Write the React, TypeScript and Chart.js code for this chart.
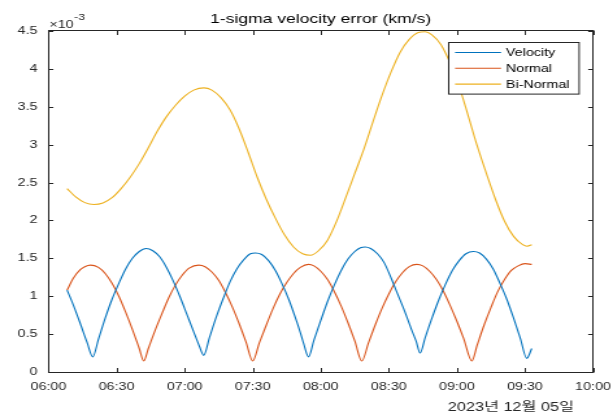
import React, { useEffect, useRef } from "react";
import { Chart, registerables } from "chart.js";

Chart.register(...registerables);

// ---------- data (minutes after 06:00, values in units of 1e-3 km/s) ----------
const seriesNames = ["Velocity", "Normal", "Bi-Normal"];
const seriesColors = ["#0072BD", "#D95319", "#EDB120"];

const velTime = [8.2, 11, 14, 17, 19.5, 22, 25, 28, 31, 34, 37, 40, 43, 46, 49, 52, 55, 58, 61, 64, 66.5, 68.4, 71, 74, 77, 80, 83, 86, 89, 91.2, 94, 97, 100, 103, 106, 109, 111, 112.5, 114.6, 117, 120, 123, 126, 129, 132, 135, 137.5, 139.6, 142, 145, 148, 151, 154, 157, 160, 162, 163.8, 166, 169, 172, 175, 178, 181, 184, 187.3, 190, 193, 196, 199, 202, 205, 208, 210.8, 213];
const velValues = [1.08, 0.88, 0.64, 0.39, 0.20, 0.43, 0.71, 0.96, 1.17, 1.36, 1.50, 1.59, 1.63, 1.60, 1.52, 1.38, 1.20, 0.99, 0.76, 0.53, 0.34, 0.22, 0.46, 0.73, 0.97, 1.19, 1.36, 1.48, 1.56, 1.57, 1.55, 1.47, 1.34, 1.16, 0.95, 0.70, 0.52, 0.37, 0.20, 0.42, 0.68, 0.93, 1.15, 1.34, 1.49, 1.59, 1.64, 1.65, 1.63, 1.56, 1.44, 1.24, 1.02, 0.80, 0.56, 0.41, 0.25, 0.45, 0.71, 0.95, 1.16, 1.34, 1.47, 1.56, 1.59, 1.57, 1.49, 1.36, 1.17, 0.96, 0.71, 0.44, 0.18, 0.31];

const norTime = [8.2, 11, 14, 16, 18.5, 22, 25, 28, 31, 34, 37, 40, 42, 44, 47, 50, 53, 56, 59, 62, 66.2, 69, 72, 75, 78, 81, 84, 87, 90, 93, 96, 99, 102, 105, 108, 111, 114.6, 117, 120, 123, 126, 129, 132, 135, 138.1, 141, 144, 147, 150, 153, 156, 159, 162.3, 165, 168, 171, 174, 177, 180, 183, 186.6, 189, 192, 195, 198, 201, 204, 207, 210, 213];
const norValues = [1.08, 1.24, 1.35, 1.39, 1.41, 1.38, 1.30, 1.17, 1.00, 0.79, 0.56, 0.31, 0.145, 0.31, 0.55, 0.77, 0.98, 1.15, 1.28, 1.37, 1.41, 1.39, 1.32, 1.21, 1.05, 0.86, 0.64, 0.40, 0.145, 0.39, 0.62, 0.84, 1.03, 1.18, 1.30, 1.38, 1.42, 1.40, 1.33, 1.22, 1.06, 0.87, 0.65, 0.41, 0.145, 0.38, 0.62, 0.84, 1.03, 1.19, 1.31, 1.39, 1.42, 1.40, 1.33, 1.22, 1.07, 0.88, 0.67, 0.44, 0.145, 0.36, 0.62, 0.85, 1.06, 1.22, 1.34, 1.40, 1.43, 1.42];

const binTime = [8.2, 12, 16, 20, 24, 28, 32, 36, 40, 44, 48, 52, 56, 60, 64, 68.5, 72, 76, 80, 84, 88, 92, 96, 100, 104, 108, 112, 115.5, 119, 123, 127, 131, 135, 139, 143, 147, 151, 155, 159, 163, 166, 169, 173, 177, 181, 185, 189, 193, 197, 201, 205, 209, 211, 213];
const binValues = [2.42, 2.31, 2.235, 2.21, 2.23, 2.30, 2.42, 2.57, 2.75, 2.96, 3.18, 3.37, 3.52, 3.64, 3.72, 3.75, 3.72, 3.62, 3.46, 3.21, 2.90, 2.57, 2.28, 2.03, 1.81, 1.65, 1.56, 1.54, 1.60, 1.74, 1.99, 2.30, 2.62, 2.94, 3.30, 3.65, 3.96, 4.22, 4.39, 4.48, 4.49, 4.45, 4.32, 4.08, 3.77, 3.38, 2.98, 2.62, 2.28, 1.99, 1.79, 1.68, 1.66, 1.68];

const xTickLabels = ["06:00", "06:30", "07:00", "07:30", "08:00", "08:30", "09:00", "09:30", "10:00"];
const xTickStep = 30;
const yTickLabels = ["0", "0.5", "1", "1.5", "2", "2.5", "3", "3.5", "4", "4.5"];
const yTickStep = 0.5;

const titleText = "1-sigma velocity error (km/s)";
const exponentBase = "\u00d710";
const exponentPower = "-3";
const dateText = "2023년 12월 05일";

// ---------- styling ----------
const CANVAS_W = 472;
const CANVAS_H = 413;
const DISPLAY_W = 613;
const AXIS_COLOR = "#262626";
const FONT = "'Liberation Sans', Arial, Helvetica, sans-serif";

const matlabPlugin = {
  id: "matlabDecor",
  afterDraw(chart: any) {
    const { ctx, chartArea } = chart;
    const xs = chart.scales.x;
    const ys = chart.scales.y;
    const L = Math.round(chartArea.left) + 0.5;
    const R = Math.round(chartArea.right) - 0.5;
    const T = Math.floor(chartArea.top) - 0.5;
    const B = Math.floor(chartArea.bottom) + 0.5;
    ctx.save();
    ctx.strokeStyle = AXIS_COLOR;
    ctx.lineWidth = 1;
    ctx.strokeRect(L, T, R - L, B - T);
    ctx.beginPath();
    for (const t of ys.ticks) {
      const py = Math.round(ys.getPixelForValue(t.value)) + 0.5;
      ctx.moveTo(L, py); ctx.lineTo(L + 3.6, py);
      ctx.moveTo(R, py); ctx.lineTo(R - 3.6, py);
    }
    for (const t of xs.ticks) {
      const px = Math.round(xs.getPixelForValue(t.value)) + 0.5;
      ctx.moveTo(px, B); ctx.lineTo(px, B - 4.5);
      ctx.moveTo(px, T); ctx.lineTo(px, T + 4.5);
    }
    ctx.stroke();

    // title
    const cx = (chartArea.left + chartArea.right) / 2;
    ctx.fillStyle = "#000";
    ctx.font = `13.5px ${FONT}`;
    ctx.textAlign = "center";
    ctx.textBaseline = "alphabetic";
    ctx.fillText(titleText, cx, 23.3);

    // exponent label
    ctx.fillStyle = AXIS_COLOR;
    ctx.textAlign = "left";
    ctx.font = `11px ${FONT}`;
    const ex = chartArea.left + 0.7;
    ctx.fillText(exponentBase, ex, 27.7);
    const w = ctx.measureText(exponentBase).width;
    ctx.font = `9.5px ${FONT}`;
    ctx.fillText(exponentPower, ex + w + 0.3, 20);

    // date label
    ctx.font = `12.5px ${FONT}, 'Noto Sans CJK KR'`;
    ctx.textAlign = "center";
    ctx.fillText(dateText, 393.4, 411);

    // legend box
    const boxW = 100.4, boxH = 51.6;
    const bx = Math.round(chartArea.right - 11.5 - boxW) + 0.5;
    const by = Math.round(chartArea.top + 10.7) + 0.5;
    ctx.fillStyle = "#fff";
    ctx.fillRect(bx, by, boxW, boxH);
    ctx.strokeStyle = AXIS_COLOR;
    ctx.lineWidth = 1;
    ctx.strokeRect(bx, by, boxW, boxH);
    ctx.font = `11px ${FONT}`;
    ctx.textAlign = "left";
    ctx.textBaseline = "middle";
    chart.data.datasets.forEach((ds: any, i: number) => {
      const ry = by + 10 + i * 15.8;
      ctx.strokeStyle = ds.borderColor;
      ctx.lineWidth = 1.1;
      ctx.beginPath();
      ctx.moveTo(bx + 4.9, ry);
      ctx.lineTo(bx + 40.3, ry);
      ctx.stroke();
      ctx.fillStyle = "#000";
      ctx.fillText(ds.label, bx + 44.1, ry + 0.5);
    });
    ctx.restore();
  },
};

export default function App() {
  const canvasRef = useRef<HTMLCanvasElement | null>(null);

  useEffect(() => {
    const canvas = canvasRef.current;
    if (!canvas) return;
    const times = [velTime, norTime, binTime];
    const values = [velValues, norValues, binValues];
    const datasets = seriesNames.map((name, i) => ({
      label: name,
      data: times[i].map((t, j) => ({ x: t, y: values[i][j] })),
      borderColor: seriesColors[i],
      backgroundColor: seriesColors[i],
      borderWidth: 1.1,
      pointRadius: 0,
      fill: false,
      cubicInterpolationMode: "monotone" as const,
    }));

    const chart = new Chart(canvas, {
      type: "line",
      data: { datasets },
      options: {
        responsive: false,
        animation: false,
        devicePixelRatio: 1,
        layout: { padding: { top: 31, right: CANVAS_W - 456.6, bottom: 0, left: 0 } },
        plugins: {
          legend: { display: false },
          title: { display: false },
          tooltip: { enabled: false },
        },
        scales: {
          x: {
            type: "linear",
            min: 0,
            max: 240,
            grid: { display: false, drawTicks: true, tickLength: 8 },
            border: { display: false },
            ticks: {
              stepSize: xTickStep,
              autoSkip: false,
              maxRotation: 0,
              padding: 0,
              color: AXIS_COLOR,
              font: { family: FONT, size: 11 },
              callback: (v: any) => xTickLabels[Math.round(Number(v) / xTickStep)] ?? "",
            },
            afterFit: (s: any) => { s.height = 41; },
          },
          y: {
            type: "linear",
            min: 0,
            max: 4.5,
            grid: { display: false, drawTicks: true, tickLength: 8.5 },
            border: { display: false },
            ticks: {
              stepSize: yTickStep,
              padding: 0,
              color: AXIS_COLOR,
              font: { family: FONT, size: 11 },
              callback: (v: any) => yTickLabels[Math.round(Number(v) / yTickStep)] ?? "",
            },
            afterFit: (s: any) => { s.width = 37.34; },
          },
        },
      },
      plugins: [matlabPlugin],
    } as any);

    return () => chart.destroy();
  }, []);

  return (
    <div style={{ position: "fixed", left: 0, top: 0, width: DISPLAY_W, height: CANVAS_H, background: "#fff" }}>
      <canvas
        ref={canvasRef}
        width={CANVAS_W}
        height={CANVAS_H}
        style={{ display: "block", width: `${DISPLAY_W}px`, height: `${CANVAS_H}px` }}
      />
    </div>
  );
}
